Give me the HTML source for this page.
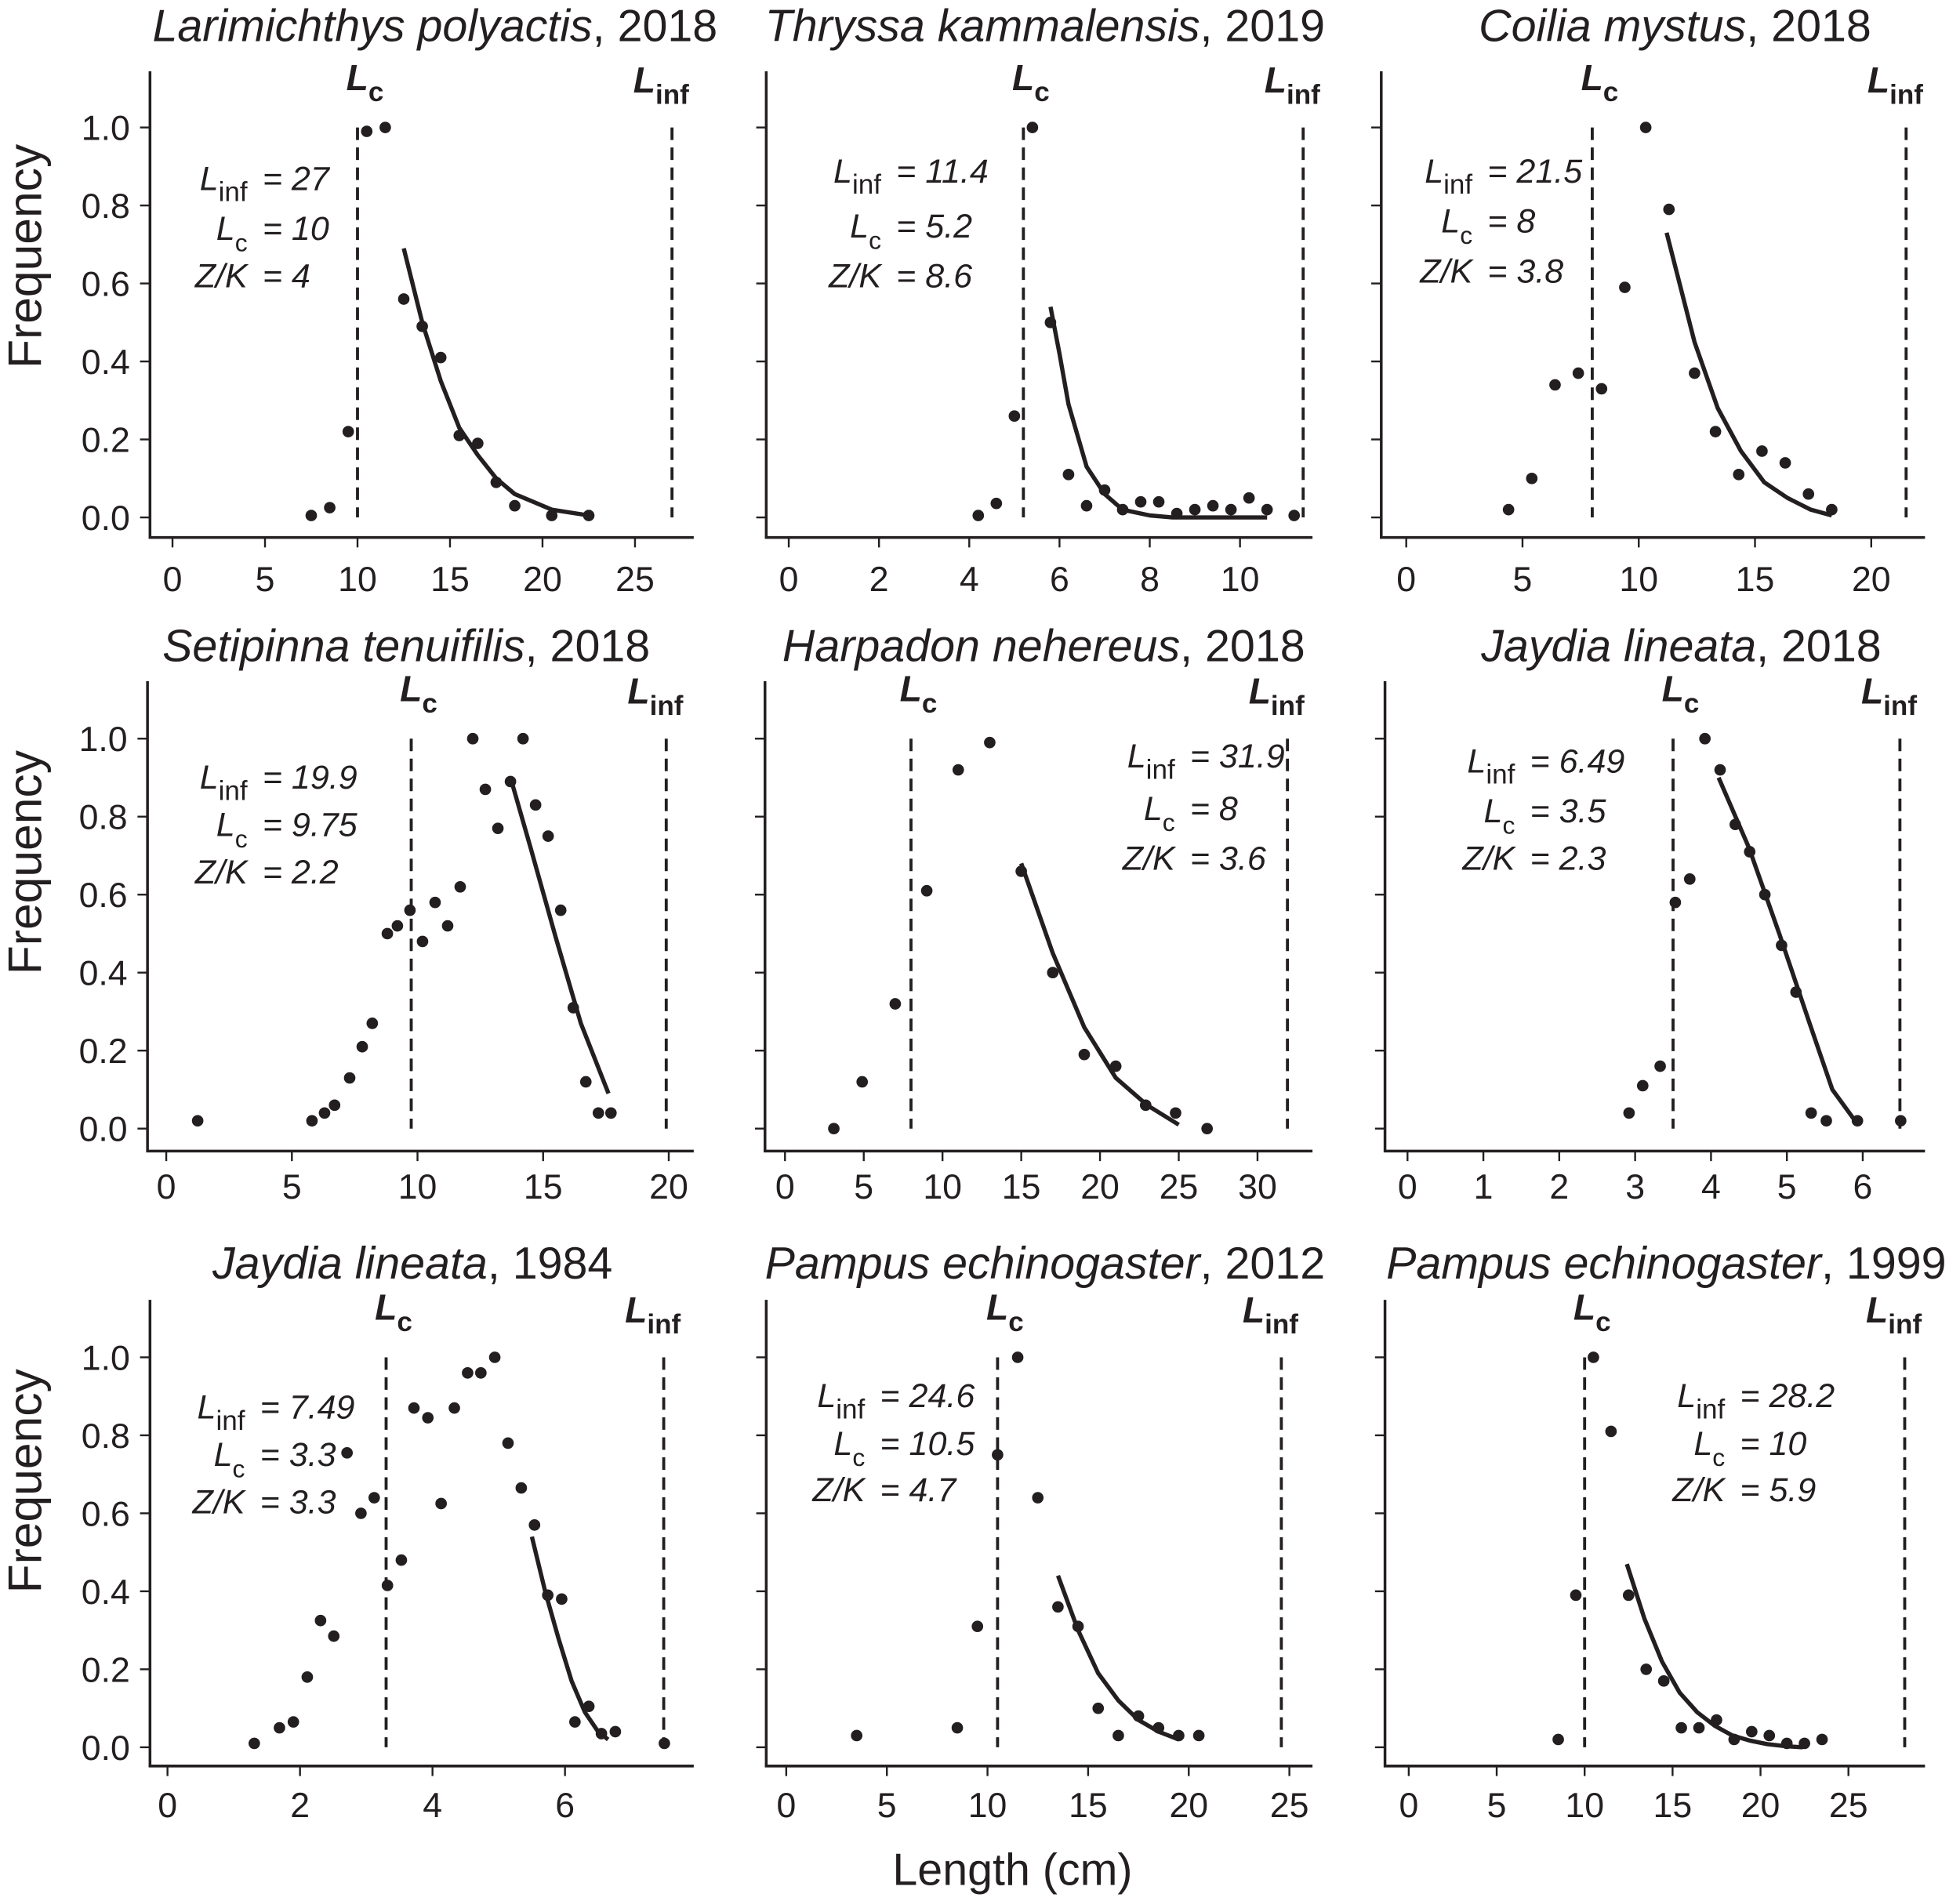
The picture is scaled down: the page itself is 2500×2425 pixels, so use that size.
<!DOCTYPE html>
<html><head><meta charset="utf-8"><style>
html,body{margin:0;padding:0;background:#fff;}
svg{display:block;}
text{font-family:"Liberation Sans",Arial,sans-serif;fill:#231f20;}
</style></head><body>
<svg id="fig" width="2500" height="2425" viewBox="0 0 1568 1521" preserveAspectRatio="none" xmlns="http://www.w3.org/2000/svg">
<text x="810" y="1508" font-size="36" text-anchor="middle">Length (cm)</text>
</svg>
<script>
// ---- data arrays ----
const titles = ["Larimichthys polyactis","Thryssa kammalensis","Coilia mystus","Setipinna tenuifilis","Harpadon nehereus","Jaydia lineata","Jaydia lineata","Pampus echinogaster","Pampus echinogaster"];
const years = ["2018","2019","2018","2018","2018","2018","1984","2012","1999"];
const LinfVals = [27,11.4,21.5,19.9,31.9,6.49,7.49,24.6,28.2];
const LcVals = [10,5.2,8,9.75,8,3.5,3.3,10.5,10];
const ZKVals = ["4","8.6","3.8","2.2","3.6","2.3","3.3","4.7","5.9"];
const LinfText = ["27","11.4","21.5","19.9","31.9","6.49","7.49","24.6","28.2"];
const LcText = ["10","5.2","8","9.75","8","3.5","3.3","10.5","10"];
const yTicks = [0,0.2,0.4,0.6,0.8,1.0];
const yTickLabels = ["0.0","0.2","0.4","0.6","0.8","1.0"];
const xTicks0 = [0,5,10,15,20,25];
const xTicks1 = [0,2,4,6,8,10];
const xTicks2 = [0,5,10,15,20];
const xTicks3 = [0,5,10,15,20];
const xTicks4 = [0,5,10,15,20,25,30];
const xTicks5 = [0,1,2,3,4,5,6];
const xTicks6 = [0,2,4,6];
const xTicks7 = [0,5,10,15,20,25];
const xTicks8 = [0,5,10,15,20,25];

const px0 = [7.5,8.5,9.5,10.5,11.5,12.5,13.5,14.5,15.5,16.5,17.5,18.5,20.5,22.5];
const py0 = [0.005,0.025,0.22,0.99,1.0,0.56,0.49,0.41,0.21,0.19,0.09,0.03,0.005,0.005];
const cx0 = [12.5,13.5,14.5,15.5,16.5,17.5,18.5,19.5,20.5,22.5];
const cy0 = [0.69,0.5,0.35,0.23,0.16,0.1,0.06,0.04,0.02,0.005];

const px1 = [4.2,4.6,5.0,5.4,5.8,6.2,6.6,7.0,7.4,7.8,8.2,8.6,9.0,9.4,9.8,10.2,10.6,11.2];
const py1 = [0.005,0.036,0.26,1.0,0.5,0.11,0.03,0.07,0.02,0.04,0.04,0.01,0.02,0.03,0.02,0.05,0.02,0.005];
const cx1 = [5.8,6.0,6.2,6.6,7.0,7.4,8.0,8.5,10.6];
const cy1 = [0.54,0.42,0.29,0.13,0.06,0.02,0.005,0,0];

const px2 = [4.4,5.4,6.4,7.4,8.4,9.4,10.3,11.3,12.4,13.3,14.3,15.3,16.3,17.3,18.3];
const py2 = [0.02,0.1,0.34,0.37,0.33,0.59,1.0,0.79,0.37,0.22,0.11,0.17,0.14,0.06,0.02];
const cx2 = [11.2,12.4,13.4,14.4,15.4,16.4,17.4,18.3];
const cy2 = [0.73,0.45,0.28,0.17,0.09,0.05,0.02,0.005];

const px3 = [1.25,5.8,6.3,6.7,7.3,7.8,8.2,8.8,9.2,9.7,10.2,10.7,11.2,11.7,12.2,12.7,13.2,13.7,14.2,14.7,15.2,15.7,16.2,16.7,17.2,17.7];
const py3 = [0.02,0.02,0.04,0.06,0.13,0.21,0.27,0.5,0.52,0.56,0.48,0.58,0.52,0.62,1.0,0.87,0.77,0.89,1.0,0.83,0.75,0.56,0.31,0.12,0.04,0.04];
const cx3 = [13.7,14.5,15.5,16.5,17.6];
const cy3 = [0.9,0.72,0.49,0.27,0.09];

const px4 = [3.1,4.9,7,9,11,13,15,17,19,21,22.9,24.8,26.8];
const py4 = [0.0,0.12,0.32,0.61,0.92,0.99,0.66,0.4,0.19,0.16,0.06,0.04,0.0];
const cx4 = [15,17,19,21,23,25];
const cy4 = [0.68,0.45,0.26,0.13,0.06,0.01];

const px5 = [2.92,3.1,3.33,3.53,3.72,3.92,4.12,4.32,4.51,4.71,4.93,5.12,5.32,5.52,5.93,6.5];
const py5 = [0.04,0.11,0.16,0.58,0.64,1.0,0.92,0.78,0.71,0.6,0.47,0.35,0.04,0.02,0.02,0.02];
const cx5 = [4.1,4.5,4.9,5.3,5.6,5.9];
const cy5 = [0.9,0.72,0.5,0.27,0.1,0.02];

const px6 = [1.31,1.69,1.9,2.11,2.31,2.51,2.71,2.92,3.12,3.32,3.53,3.72,3.93,4.13,4.33,4.53,4.73,4.94,5.14,5.34,5.54,5.74,5.95,6.15,6.36,6.55,6.76,7.5];
const py6 = [0.01,0.05,0.065,0.18,0.325,0.285,0.755,0.6,0.64,0.415,0.48,0.87,0.845,0.625,0.87,0.96,0.96,1.0,0.78,0.665,0.57,0.39,0.38,0.065,0.105,0.035,0.04,0.01];
const cx6 = [5.5,5.7,5.9,6.1,6.3,6.5,6.65];
const cy6 = [0.54,0.4,0.28,0.17,0.09,0.04,0.02];

const px7 = [3.5,8.5,9.5,10.5,11.5,12.5,13.5,14.5,15.5,16.5,17.5,18.5,19.5,20.5];
const py7 = [0.03,0.05,0.31,0.75,1.0,0.64,0.36,0.31,0.1,0.03,0.08,0.05,0.03,0.03];
const cx7 = [13.5,14.5,15.5,16.5,17.5,18.5,19.5];
const cy7 = [0.44,0.3,0.19,0.12,0.07,0.04,0.02];

const px8 = [8.5,9.5,10.5,11.5,12.5,13.5,14.5,15.5,16.5,17.5,18.5,19.5,20.5,21.5,22.5,23.5];
const py8 = [0.02,0.39,1.0,0.81,0.39,0.2,0.17,0.05,0.05,0.07,0.02,0.04,0.03,0.01,0.01,0.02];
const cx8 = [12.4,13.4,14.4,15.4,16.4,17.4,18.4,19.4,20.4,21.4,22.4];
const cy8 = [0.47,0.33,0.22,0.14,0.09,0.055,0.03,0.017,0.008,0.003,0.0];

const PX=[px0,px1,px2,px3,px4,px5,px6,px7,px8], PY=[py0,py1,py2,py3,py4,py5,py6,py7,py8];
const CX=[cx0,cx1,cx2,cx3,cx4,cx5,cx6,cx7,cx8], CY=[cy0,cy1,cy2,cy3,cy4,cy5,cy6,cy7,cy8];
const XT=[xTicks0,xTicks1,xTicks2,xTicks3,xTicks4,xTicks5,xTicks6,xTicks7,xTicks8];

// ---- layout (pixel geometry) ----
const rows=[{y0:414,y1:102,top:57,axis:430,tl:473,title:33,fq:205},
            {y0:903,y1:591,top:545,axis:921,tl:959,title:529,fq:690},
            {y0:1398,y1:1086,top:1040,axis:1413,tl:1454,title:1023,fq:1185}];
const geo=[
 {left:120,right:555,x0:138,ppu:14.8,tc:348,ar:198,ay:[152,192,230]},
 {left:613,right:1050,x0:631,ppu:36.1,tc:836,ar:705,ay:[146,190,230]},
 {left:1105,right:1540,x0:1125,ppu:18.6,tc:1340,ar:1178,ay:[146,186,226]},
 {left:118,right:555,x0:133,ppu:20.1,tc:325,ar:198,ay:[631,669,707]},
 {left:612,right:1050,x0:628,ppu:12.6,tc:835,ar:940,ay:[614,656,696]},
 {left:1108,right:1540,x0:1126,ppu:60.7,tc:1345,ar:1212,ay:[618,658,696]},
 {left:120,right:555,x0:134,ppu:53,tc:330,ar:196,ay:[1135,1173,1211]},
 {left:613,right:1050,x0:629,ppu:16.1,tc:836,ar:692,ay:[1126,1164,1201]},
 {left:1108,right:1540,x0:1127,ppu:14.07,tc:1333,ar:1380,ay:[1126,1164,1201]}];

const NS="http://www.w3.org/2000/svg", svg=document.getElementById('fig');
function mk(tag,attrs,parent){const e=document.createElementNS(NS,tag);for(const k in attrs)e.setAttribute(k,attrs[k]);(parent||svg).appendChild(e);return e;}
function tsp(parent,txt,attrs){const t=document.createElementNS(NS,'tspan');for(const k in attrs)t.setAttribute(k,attrs[k]);t.textContent=txt;parent.appendChild(t);return t;}

for(let i=0;i<9;i++){
  const g=geo[i], r=rows[Math.floor(i/3)];
  const sx=v=>g.x0+v*g.ppu, sy=v=>r.y0-(r.y0-r.y1)*v;
  const pg=mk('g',{});
  
  
  const t=mk('text',{x:g.tc,y:r.title,'font-size':36,'text-anchor':'middle'},pg);
  
  
  tsp(t,titles[i],{'font-style':'italic'});tsp(t,', '+years[i],{});
  const ya=mk('line',{x1:g.left,y1:r.top,x2:g.left,y2:r.axis+1,stroke:'#231f20','stroke-width':2.2},pg);
  
  
  const xa=mk('line',{x1:g.left-1,y1:r.axis,x2:g.right,y2:r.axis,stroke:'#231f20','stroke-width':2.2},pg);
  
  
  yTicks.forEach((v,k)=>{
    const tk=mk('line',{x1:g.left-8,y1:sy(v),x2:g.left,y2:sy(v),stroke:'#231f20','stroke-width':1.5},pg);
    
    
    if(i%3===0){
      const l=mk('text',{x:g.left-16,y:sy(v)+10,'font-size':28,'text-anchor':'end'},pg);
      
      
      l.textContent=yTickLabels[k];
    }
  });
  XT[i].forEach(v=>{
    const tk=mk('line',{x1:sx(v),y1:r.axis,x2:sx(v),y2:r.axis+8,stroke:'#231f20','stroke-width':1.5},pg);
    
    
    const l=mk('text',{x:sx(v),y:r.tl,'font-size':28,'text-anchor':'middle'},pg);
    
    
    l.textContent=String(v);
  });
  if(i%3===0){
    const f=mk('text',{x:0,y:0,'font-size':38,'text-anchor':'middle',transform:`translate(33,${r.fq}) rotate(-90)`},pg);
    
    
    f.textContent='Frequency';
  }
  const lcx=sx(LcVals[i]), lix=sx(LinfVals[i]);
  const d1=mk('line',{x1:lcx,y1:r.y1,x2:lcx,y2:r.y0,stroke:'#231f20','stroke-width':2.4,'stroke-dasharray':'10,6'},pg);
  
  
  const d2=mk('line',{x1:lix,y1:r.y1,x2:lix,y2:r.y0,stroke:'#231f20','stroke-width':2.4,'stroke-dasharray':'10,6'},pg);
  
  
  const lc=mk('text',{x:lcx-9,y:r.y1-30,'font-size':29,'font-weight':'bold','font-style':'italic'},pg);
  
  
  tsp(lc,'L',{});tsp(lc,'c',{dy:9,'font-size':22,'font-style':'normal'});
  const li=mk('text',{x:lix-31,y:r.y1-28,'font-size':29,'font-weight':'bold','font-style':'italic'},pg);
  
  
  tsp(li,'L',{});tsp(li,'inf',{dy:9,'font-size':22,'font-style':'normal'});
  const a1=mk('text',{x:g.ar,y:g.ay[0],'font-size':27,'font-style':'italic','text-anchor':'end'},pg);
  
  
  tsp(a1,'L',{});tsp(a1,'inf',{dy:9,'font-size':22,'font-style':'normal'});
  const a2=mk('text',{x:g.ar,y:g.ay[1],'font-size':27,'font-style':'italic','text-anchor':'end'},pg);
  
  
  tsp(a2,'L',{});tsp(a2,'c',{dy:9,'font-size':20,'font-style':'normal'});
  const a3=mk('text',{x:g.ar,y:g.ay[2],'font-size':27,'font-style':'italic','text-anchor':'end'},pg);
  
  
  a3.textContent='Z/K';
  const vals=['= '+LinfText[i],'= '+LcText[i],'= '+ZKVals[i]];
  vals.forEach((s,k)=>{
    const e=mk('text',{x:g.ar+12,y:g.ay[k],'font-size':27,'font-style':'italic'},pg);
    
    
    e.textContent=s;
  });
  const pts=CX[i].map((v,k)=>sx(v).toFixed(1)+','+sy(CY[i][k]).toFixed(1)).join(' ');
  const c=mk('polyline',{points:pts,fill:'none',stroke:'#231f20','stroke-width':3.4,'stroke-linejoin':'round'},pg);
  
  
  PX[i].forEach((v,k)=>{
    const p=mk('circle',{cx:sx(v),cy:sy(PY[i][k]),r:4.6,fill:'#231f20'},pg);
    
    
  });
}
</script>
</body></html>
